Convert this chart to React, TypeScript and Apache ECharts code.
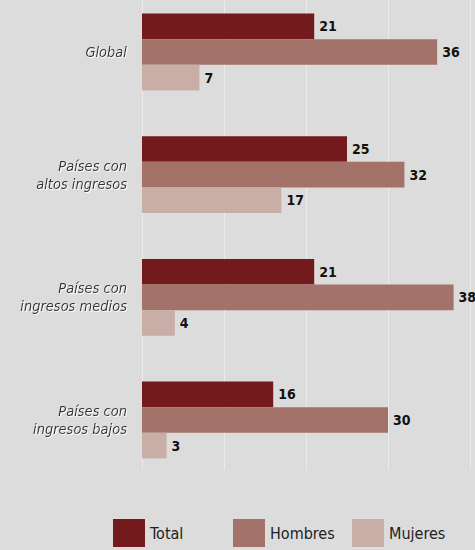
import React, { useEffect, useRef } from "react";
import * as echarts from "echarts";

const categories = [
  "Países con\ningresos bajos",
  "Países con\ningresos medios",
  "Países con\naltos ingresos",
  "Global",
];
const seriesNames = ["Total", "Hombres", "Mujeres"];
const totalValues = [16, 21, 25, 21];
const hombresValues = [30, 38, 32, 36];
const mujeresValues = [3, 4, 17, 7];
const xTicks = [0, 10, 20, 30, 40];

const colors = ["#731a1c", "#a37369", "#c9aea8"];
const FONT = "'DejaVu Sans Condensed', 'Liberation Sans', sans-serif";

export default function App() {
  const ref = useRef<HTMLDivElement>(null);
  useEffect(() => {
    if (!ref.current) return;
    const chart = echarts.init(ref.current, null, { renderer: "svg" });
    const values = [totalValues, hombresValues, mujeresValues];
    const legendPos = [113, 233, 352];
    const xBase = {
      type: "value",
      min: xTicks[0],
      max: xTicks[xTicks.length - 1],
      interval: 10,
      axisLabel: { show: false },
      axisLine: { show: false },
      axisTick: { show: false },
    };
    chart.setOption({
      animation: false,
      backgroundColor: "#dcdcdc",
      grid: [
        { left: 142, right: 5, top: 52, height: 368 },
        { left: 142, right: 5, top: 0, height: 470 },
      ],
      xAxis: [
        { ...xBase, gridIndex: 0, splitLine: { show: false } },
        { ...xBase, gridIndex: 1, splitLine: { show: true, lineStyle: { color: "#ebebeb", width: 1 } } },
      ],
      yAxis: [
        {
          type: "category",
          gridIndex: 0,
          data: categories,
          boundaryGap: false,
          z: 5,
          axisLine: { show: false },
          axisTick: { show: false },
          splitLine: { show: false },
          axisLabel: {
            margin: 15,
            fontFamily: FONT,
            fontStyle: "italic",
            fontSize: 14.5,
            color: "#333333",
            lineHeight: 18,
            align: "right",
            padding: [4, 0, 0, 0],
            textShadowColor: "#ffffff",
            textShadowBlur: 1,
            textShadowOffsetX: 1,
            textShadowOffsetY: 1,
          },
        },
        {
          type: "value",
          gridIndex: 1,
          show: false,
          min: 0,
          max: 1,
          splitLine: { show: false },
        },
      ],
      legend: seriesNames.map((n, i) => ({
        data: [n],
        left: legendPos[i],
        top: 519,
        itemWidth: 32,
        itemHeight: 28,
        itemGap: 0,
        icon: "rect",
        textStyle: { fontFamily: FONT, fontSize: 16, color: "#222", padding: [10, 0, 0, 0] },
        padding: 0,
      })),
      series: seriesNames.map((n, i) => ({
        name: n,
        type: "bar",
        xAxisIndex: 0,
        yAxisIndex: 0,
        clip: false,
        data: values[i],
        barWidth: 25.6,
        barGap: "0%",
        itemStyle: { color: colors[i] },
        label: {
          show: true,
          position: "right",
          distance: 5,
          fontFamily: FONT,
          fontWeight: "bold",
          fontSize: 14,
          color: "#111",
        },
      })),
    });
    return () => chart.dispose();
  }, []);
  return (
    <div
      ref={ref}
      style={{ position: "fixed", left: 0, top: 0, width: 475, height: 550 }}
    />
  );
}
